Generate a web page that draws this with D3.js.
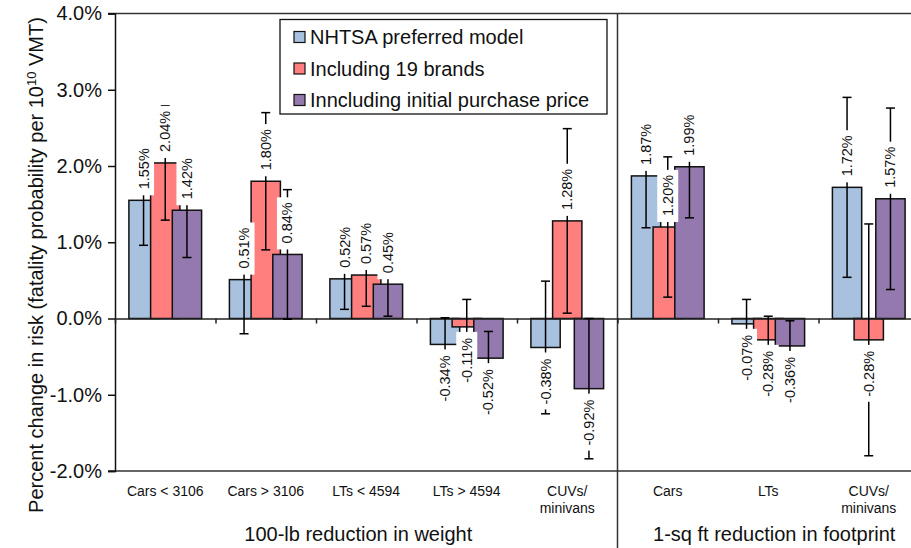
<!DOCTYPE html>
<html>
<head>
<meta charset="utf-8">
<script src="https://cdn.jsdelivr.net/npm/d3@7"></script>
<style>
  body { margin: 0; background: #fff; }
  svg { display: block; font-family: "Liberation Sans", Arial, sans-serif; }
</style>
</head>
<body>
<svg id="chart" width="911" height="548"></svg>
<script>
// categories along the x axis (two sections)
var categories = ["Cars < 3106", "Cars > 3106", "LTs < 4594", "LTs > 4594", "CUVs/\nminivans", "Cars", "LTs", "CUVs/\nminivans"];
var sections = ["100-lb reduction in weight", "1-sq ft reduction in footprint"];
var sectionSpans = [[0, 5], [5, 8]];

var seriesNames = ["NHTSA preferred model", "Including 19 brands", "Inncluding initial purchase price"];
var seriesColors = ["#a7c1df", "#ff7f7f", "#9479ae"];

// percent change in risk, and half-width of the error bars
var nhtsa = [1.55, 0.51, 0.52, -0.34, -0.38, 1.87, -0.07, 1.72];
var nhtsaErr = [0.59, 0.71, 0.40, 0.35, 0.87, 0.68, 0.32, 1.18];
var brands = [2.04, 1.80, 0.57, -0.11, 1.28, 1.20, -0.28, -0.28];
var brandsErr = [0.75, 0.90, 0.41, 0.36, 1.21, 0.92, 0.31, 1.52];
var price = [1.42, 0.84, 0.45, -0.52, -0.92, 1.99, -0.36, 1.57];
var priceErr = [0.62, 0.85, 0.42, 0.35, 0.92, 0.67, 0.33, 1.19];

var yTicks = [-2, -1, 0, 1, 2, 3, 4];

var values = [nhtsa, brands, price];
var errors = [nhtsaErr, brandsErr, priceErr];

var svg = d3.select("#chart");

var x = d3.scaleBand().domain(d3.range(categories.length)).range([115, 919]).padding(0);
var xIdx = d3.scaleLinear().domain([0, categories.length]).range([115, 919]);
var offset = d3.scalePoint().domain(d3.range(seriesNames.length)).range([-21.7, 21.7]);
var y = d3.scaleLinear().domain([-2, 4]).range([471, 13.5]);
var barW = 29.3;

// flatten into one row per bar
var rows = [];
values.forEach(function (vals, s) {
	vals.forEach(function (v, i) {
		rows.push({ s: s, i: i, v: v, e: errors[s][i] });
	});
});
function cx(d) { return x(d.i) + x.bandwidth() / 2 + offset(d.s); }

// frame
svg.append("line")
	.attr("x1", 108).attr("x2", 919)
	.attr("y1", y(4)).attr("y2", y(4))
	.attr("stroke", "#333").attr("stroke-width", 1.5);
svg.append("line")
	.attr("x1", 108).attr("x2", 919)
	.attr("y1", y(-2)).attr("y2", y(-2))
	.attr("stroke", "#333").attr("stroke-width", 1.5);
svg.append("line")
	.attr("x1", xIdx(5)).attr("x2", xIdx(5))
	.attr("y1", y(4)).attr("y2", 548)
	.attr("stroke", "#333").attr("stroke-width", 1.5);

// y axis
var yAxis = svg.append("g")
	.attr("transform", "translate(115,0)")
	.call(d3.axisLeft(y).tickValues(yTicks).tickSize(7).tickPadding(6)
		.tickFormat(function (d) { return d.toFixed(1) + "%"; }));
yAxis.selectAll("text").style("font-size", "20px").attr("fill", "#111").style("font-family", "inherit");
yAxis.selectAll("line, path").attr("stroke", "#111").attr("stroke-width", 1.5);

// bars
svg.append("g").selectAll("rect")
		.data(rows)
		.enter()
	  .append("rect")
		.attr("x", function (d) { return cx(d) - barW / 2; })
		.attr("y", function (d) { return y(Math.max(0, d.v)); })
		.attr("width", barW)
		.attr("height", function (d) { return Math.abs(y(d.v) - y(0)); })
		.attr("fill", function (d) { return seriesColors[d.s]; })
		.attr("stroke", "#111")
		.attr("stroke-width", 1.5);

// zero line with ticks
var zeroAxis = svg.append("g")
	.attr("transform", "translate(0," + y(0) + ")")
	.call(d3.axisBottom(xIdx).tickValues([1, 2, 3, 4, 5, 6, 7]).tickSize(5).tickFormat(""));
zeroAxis.selectAll("line, path").attr("stroke", "#222").attr("stroke-width", 1.5);

// error bars
var err = svg.append("g").attr("stroke", "#000").attr("stroke-width", 1.5);
err.selectAll("line.stem")
		.data(rows)
		.enter()
	  .append("line")
		.attr("class", "stem")
		.attr("x1", cx).attr("x2", cx)
		.attr("y1", function (d) { return y(d.v + d.e); })
		.attr("y2", function (d) { return y(d.v - d.e); });
[1, -1].forEach(function (sign) {
	err.selectAll("line.cap" + (sign > 0 ? "t" : "b"))
			.data(rows)
			.enter()
		  .append("line")
			.attr("class", "cap" + (sign > 0 ? "t" : "b"))
			.attr("x1", function (d) { return cx(d) - 4.5; })
			.attr("x2", function (d) { return cx(d) + 4.5; })
			.attr("y1", function (d) { return y(d.v + sign * d.e); })
			.attr("y2", function (d) { return y(d.v + sign * d.e); });
});

// data labels, rotated, on white boxes
var labels = svg.append("g").selectAll("g")
		.data(rows)
		.enter()
	  .append("g")
		.attr("transform", function (d) {
			var ay = d.v >= 0 ? y(d.v) - 11 : y(d.v) + 11;
			return "translate(" + cx(d) + "," + ay + ") rotate(-90)";
		});
labels.append("rect").attr("fill", "#fff");
labels.append("text")
	.attr("text-anchor", function (d) { return d.v >= 0 ? "start" : "end"; })
	.attr("dominant-baseline", "central")
	.style("font-size", "14.5px")
	.attr("fill", "#111")
	.text(function (d) { return d.v.toFixed(2) + "%"; });
labels.each(function (d) {
	var g = d3.select(this);
	var len = g.select("text").node().getComputedTextLength();
	g.select("rect")
		.attr("x", d.v >= 0 ? -6 : -len - 5)
		.attr("width", len + 11)
		.attr("y", -10.5)
		.attr("height", 21);
});

// category labels
svg.append("g").selectAll("text")
		.data(categories)
		.enter()
	  .append("text")
		.attr("text-anchor", "middle")
		.style("font-size", "14px")
		.attr("fill", "#111")
		.each(function (d, i) {
			var t = d3.select(this);
			d.split("\n").forEach(function (line, k) {
				t.append("tspan")
					.attr("x", x(i) + x.bandwidth() / 2)
					.attr("y", 496 + k * 17)
					.text(line);
			});
		});

// section labels
svg.append("g").selectAll("text")
		.data(sections)
		.enter()
	  .append("text")
		.attr("x", function (d, i) { return (xIdx(sectionSpans[i][0]) + xIdx(sectionSpans[i][1])) / 2 + (i === 0 ? -8 : 6); })
		.attr("y", 541)
		.attr("text-anchor", "middle")
		.style("font-size", "20px")
		.attr("fill", "#111")
		.text(function (d) { return d; });

// y axis title
var title = svg.append("text")
	.attr("transform", "translate(43,265) rotate(-90)")
	.attr("text-anchor", "middle")
	.style("font-size", "20px")
	.attr("fill", "#111");
title.append("tspan").text("Percent change in risk (fatality probability per 10");
title.append("tspan").attr("dy", -7).style("font-size", "13px").text("10");
title.append("tspan").attr("dy", 7).text(" VMT)");

// legend
var legend = svg.append("g");
legend.append("rect")
	.attr("x", 280).attr("y", 19.5)
	.attr("width", 327).attr("height", 94.5)
	.attr("fill", "#fff")
	.attr("stroke", "#111")
	.attr("stroke-width", 1.3);
var item = legend.selectAll("g")
		.data(seriesNames)
		.enter()
	  .append("g")
		.attr("transform", function (d, i) { return "translate(294," + (37 + i * 31.5) + ")"; });
item.append("rect")
	.attr("x", 0).attr("y", -5.5)
	.attr("width", 11).attr("height", 11)
	.attr("fill", function (d, i) { return seriesColors[i]; })
	.attr("stroke", "#111")
	.attr("stroke-width", 1.2);
item.append("text")
	.attr("x", 16)
	.attr("dominant-baseline", "central")
	.style("font-size", "20px")
	.attr("fill", "#111")
	.text(function (d) { return d; });
</script>
</body>
</html>
